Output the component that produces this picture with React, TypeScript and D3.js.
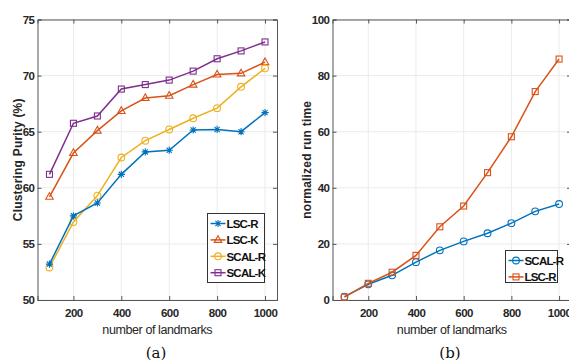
import React, { useRef, useEffect } from "react";
import * as d3 from "d3";

// landmarks on x axis
const landmarks = [100, 200, 300, 400, 500, 600, 700, 800, 900, 1000];

// (a) clustering purity (%)
const lscR = [53.2, 57.5, 58.65, 61.2, 63.2, 63.35, 65.15, 65.2, 65.0, 66.7];
const lscK = [59.2, 63.1, 65.1, 66.85, 68.0, 68.2, 69.2, 70.1, 70.2, 71.2];
const scalR = [52.9, 56.95, 59.3, 62.7, 64.2, 65.2, 66.2, 67.1, 69.0, 70.65];
const scalK = [61.2, 65.75, 66.4, 68.8, 69.2, 69.6, 70.4, 71.5, 72.2, 73.0];

// (b) normalized run time
const timeScalR = [1.2, 5.6, 8.8, 13.5, 17.7, 20.9, 23.8, 27.4, 31.6, 34.2];
const timeLscR = [1.0, 5.95, 9.9, 15.9, 26.1, 33.5, 45.4, 58.2, 74.3, 85.9];

const xTicks = [200, 400, 600, 800, 1000];
const purityTicks = [50, 55, 60, 65, 70, 75];
const timeTicks = [0, 20, 40, 60, 80, 100];

const blue = "#0072BD";
const orange = "#D95319";
const yellow = "#EDB120";
const purple = "#7E2F8E";

const tickFont = "'Liberation Sans', Arial, sans-serif";

const drawMarker = (g, type, x, y, color) => {
    if (type === "star") {
        const r = 3.6;
        const d = r * 0.72;
        const p = `M${x - r},${y}L${x + r},${y}M${x},${y - r}L${x},${y + r}` +
            `M${x - d},${y - d}L${x + d},${y + d}M${x - d},${y + d}L${x + d},${y - d}`;
        g.append("path").attr("d", p).attr("stroke", color).attr("stroke-width", 1.1).attr("fill", "none");
    } else if (type === "circle") {
        g.append("circle").attr("cx", x).attr("cy", y).attr("r", 3.4)
            .attr("fill", "none").attr("stroke", color).attr("stroke-width", 1.1);
    } else if (type === "triangle") {
        const r = 4.2;
        g.append("path")
            .attr("d", `M${x},${y - r}L${x + r * 0.9},${y + r * 0.6}L${x - r * 0.9},${y + r * 0.6}Z`)
            .attr("fill", "none").attr("stroke", color).attr("stroke-width", 1.1);
    } else if (type === "square") {
        g.append("rect").attr("x", x - 3).attr("y", y - 3).attr("width", 6).attr("height", 6)
            .attr("fill", "none").attr("stroke", color).attr("stroke-width", 1.1);
    }
};

const drawPanel = (svg, cfg) => {
    const { left, right, top, bottom, yDomain, yTicks, series, yLabel, caption, legend } = cfg;

    const x = d3.scaleLinear().domain([50, 1050]).range([left, right]);
    const y = d3.scaleLinear().domain(yDomain).range([bottom, top]);

    const g = svg.append("g");

    // grid
    g.selectAll(".gx").data(xTicks).enter().append("line")
        .attr("x1", (d) => x(d)).attr("x2", (d) => x(d))
        .attr("y1", top).attr("y2", bottom)
        .attr("stroke", "#ebebeb").attr("stroke-width", 1);
    g.selectAll(".gy").data(yTicks).enter().append("line")
        .attr("x1", left).attr("x2", right)
        .attr("y1", (d) => y(d)).attr("y2", (d) => y(d))
        .attr("stroke", "#ebebeb").attr("stroke-width", 1);

    // axes
    const fmt = d3.format("d");
    const xAxis = d3.axisBottom(x).tickValues(xTicks).tickSize(-4).tickPadding(9).tickFormat(fmt);
    const yAxis = d3.axisLeft(y).tickValues(yTicks).tickSize(-4).tickPadding(3).tickFormat(fmt);
    const xTop = d3.axisTop(x).tickValues(xTicks).tickSize(-4).tickFormat(() => "");
    const yRight = d3.axisRight(y).tickValues(yTicks).tickSize(-4).tickFormat(() => "");

    const style = (a) => {
        a.selectAll("path").attr("stroke", "#555").attr("stroke-width", 1);
        a.selectAll("line").attr("stroke", "#555");
        a.selectAll("text").attr("fill", "#262626")
            .style("font-family", tickFont).style("font-size", "11.5px")
            .style("font-weight", "bold").style("letter-spacing", "-0.5px");
    };

    g.append("g").attr("transform", `translate(0,${bottom})`).call(xAxis).call(style);
    g.append("g").attr("transform", `translate(${left},0)`).call(yAxis).call(style);
    g.append("g").attr("transform", `translate(0,${top})`).call(xTop).call(style);
    g.append("g").attr("transform", `translate(${right},0)`).call(yRight).call(style);

    // lines + markers
    series.forEach((s) => {
        const line = d3.line()
            .x((d, i) => x(landmarks[i]))
            .y((d) => y(d));
        g.append("path").datum(s.values)
            .attr("fill", "none").attr("stroke", s.color).attr("stroke-width", 1.5)
            .attr("d", line);
        s.values.forEach((v, i) => drawMarker(g, s.marker, x(landmarks[i]), y(v), s.color));
    });

    // labels
    const cx = (left + right) / 2;
    g.append("text").attr("x", cx).attr("y", 334).attr("text-anchor", "middle")
        .style("font-family", tickFont).style("font-size", "12.5px")
        .style("letter-spacing", "-0.4px").attr("fill", "#262626")
        .text("number of landmarks");
    g.append("text")
        .attr("transform", `translate(${cfg.yLabelX},${(top + bottom) / 2}) rotate(-90)`)
        .attr("text-anchor", "middle")
        .style("font-family", tickFont).style("font-size", "12px").style("font-weight", "bold")
        .style("letter-spacing", "0.2px").attr("fill", "#262626")
        .text(yLabel);
    g.append("text").attr("x", cfg.captionX).attr("y", 358).attr("text-anchor", "middle")
        .style("font-family", "'DejaVu Serif', 'Liberation Serif', serif").style("font-size", "15px")
        .attr("fill", "#111")
        .text(caption);

    // legend
    const lg = g.append("g");
    lg.append("rect").attr("x", legend.x).attr("y", legend.y)
        .attr("width", legend.w).attr("height", legend.h)
        .attr("fill", "#fff").attr("stroke", "#333").attr("stroke-width", 1);
    legend.items.forEach((s, i) => {
        const ly = legend.y + 10 + i * 16.4;
        const lx = legend.x + 3;
        lg.append("line").attr("x1", lx).attr("x2", lx + 15).attr("y1", ly).attr("y2", ly)
            .attr("stroke", s.color).attr("stroke-width", 1.5);
        drawMarker(lg, s.marker, lx + 7.5, ly, s.color);
        lg.append("text").attr("x", lx + 16).attr("y", ly + 4.3)
            .style("font-family", tickFont).style("font-size", "11.5px")
            .style("font-weight", "bold").style("letter-spacing", "-0.8px")
            .attr("fill", "#111").text(s.name);
    });
};

const App = () => {
    const ref = useRef(null);

    useEffect(() => {
        const svg = d3.select(ref.current);
        svg.selectAll("*").remove();

        const sLscR = { name: "LSC-R", values: lscR, color: blue, marker: "star" };
        const sLscK = { name: "LSC-K", values: lscK, color: orange, marker: "triangle" };
        const sScalR = { name: "SCAL-R", values: scalR, color: yellow, marker: "circle" };
        const sScalK = { name: "SCAL-K", values: scalK, color: purple, marker: "square" };

        drawPanel(svg, {
            left: 37.5, right: 277, top: 19.5, bottom: 300,
            yDomain: [50, 75], yTicks: purityTicks,
            series: [sScalK, sLscK, sScalR, sLscR],
            yLabel: "Clustering Purity (%)", yLabelX: 22, caption: "(a)", captionX: 156,
            legend: { x: 207.5, y: 213.5, w: 57, h: 69, items: [sLscR, sLscK, sScalR, sScalK] },
        });

        const tScal = { name: "SCAL-R", values: timeScalR, color: blue, marker: "circle" };
        const tLsc = { name: "LSC-R", values: timeLscR, color: orange, marker: "square" };

        drawPanel(svg, {
            left: 332.5, right: 571, top: 19.5, bottom: 300,
            yDomain: [0, 100], yTicks: timeTicks,
            series: [tScal, tLsc],
            yLabel: "normalized run time", yLabelX: 311, caption: "(b)", captionX: 450,
            legend: { x: 505.5, y: 250.5, w: 52, h: 32, items: [tScal, tLsc] },
        });
    }, []);

    return (
        <svg ref={ref} width={569} height={363}
            style={{ position: "absolute", left: 0, top: 0, background: "#fff", overflow: "hidden" }}>
        </svg>
    );
};

export default App;
